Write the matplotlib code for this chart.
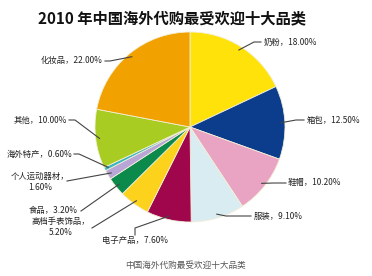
import matplotlib
matplotlib.use('Agg')
import matplotlib.pyplot as plt
import numpy as np

plt.rcParams['font.family'] = ['Noto Sans CJK SC', 'DejaVu Sans']

# data
title = '2010 年中国海外代购最受欢迎十大品类'
caption = '中国海外代购最受欢迎十大品类'
categories = ['奶粉', '箱包', '鞋帽', '服装', '电子产品', '高档手表饰品',
              '食品', '个人运动器材', '海外特产', '其他', '化妆品']
shares = [18.0, 12.5, 10.2, 9.1, 7.6, 5.2, 3.2, 1.6, 0.6, 10.0, 22.0]
colors = ['#ffe20a', '#0c3d8c', '#e9a3c3', '#d9ecf1', '#a0064c', '#fcd21c',
          '#0b8a4c', '#b8a6d6', '#3fb4c4', '#a8cc22', '#f1a200']
wrapped = ['高档手表饰品', '个人运动器材']

# label layout in pixels (x, y measured from top), alignment, leader path
W, H = 372, 276
layout = {
    '奶粉': ((264, 42), 'left', [(254, 42), (261, 42)]),
    '箱包': ((307, 120), 'left', [(296, 120), (304, 120)]),
    '鞋帽': ((288, 183), 'left', [(274, 183), (286, 183)]),
    '服装': ((254, 216), 'left', [(226, 216), (251, 216)]),
    '电子产品': ((102, 240), 'left', [(135, 228), (135, 235)]),
    '高档手表饰品': ((61, 227), 'center', [(92, 228)]),
    '食品': ((78, 211), 'right', [(81, 211)]),
    '个人运动器材': ((40, 182), 'center', [(67, 181)]),
    '海外特产': ((72, 154), 'right', [(79, 154), (74, 154)]),
    '其他': ((67, 120), 'right', [(75, 120), (69, 120)]),
    '化妆品': ((103, 61), 'right', [(110, 61), (105, 61)]),
}

fig = plt.figure(figsize=(3.72, 2.76), dpi=100)
ax = fig.add_axes([0, 0, 1, 1])

cx, cy, r = 190, H - 127, 95
wedges, _ = ax.pie(shares, colors=colors, startangle=90, counterclock=False,
                   center=(cx, cy), radius=r,
                   wedgeprops=dict(edgecolor='#f3efd6', linewidth=0.6))
ax.set_xlim(0, W)
ax.set_ylim(0, H)
ax.set_aspect('equal')
ax.axis('off')

for w, name, val in zip(wedges, categories, shares):
    (tx, ty), ha, path = layout[name]
    mid = np.deg2rad((w.theta1 + w.theta2) / 2)
    ex = cx + 0.96 * r * np.cos(mid)
    ey = cy + 0.96 * r * np.sin(mid)
    xs = [ex] + [p[0] for p in path]
    ys = [ey] + [H - p[1] for p in path]
    ax.plot(xs, ys, color='#444444', lw=0.8)
    sep = '，\n' if name in wrapped else '，'
    ax.text(tx, H - ty, f'{name}{sep}{val:.2f}%', ha=ha, va='center',
            fontsize=6, color='#222222', linespacing=1.3, multialignment='center')

fig.text(172 / W, 1 - 18 / H, title, ha='center', va='center',
         fontsize=11, fontweight='bold', color='#111111')
fig.text(186 / W, 1 - 265 / H, caption, ha='center', va='center',
         fontsize=6.2, color='#555555')

fig.savefig('out.png', dpi=100)
